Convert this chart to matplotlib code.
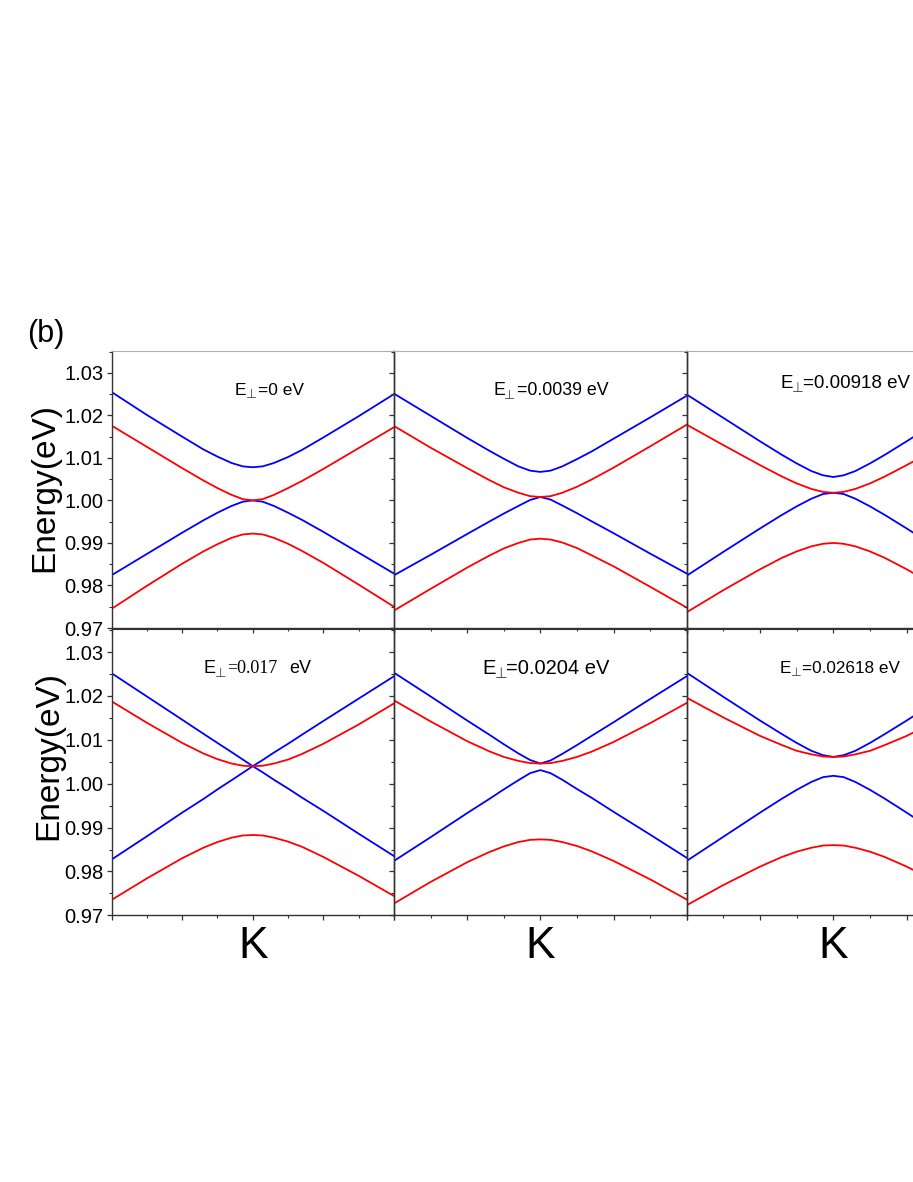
import matplotlib
matplotlib.use("Agg")
import matplotlib.pyplot as plt
from matplotlib.ticker import MultipleLocator, FixedLocator

plt.rcParams['font.family'] = ['Liberation Sans', 'DejaVu Sans']

# k across each panel, K point at 0
k = [-1, -0.75, -0.5, -0.35, -0.25, -0.15, -0.07, 0, 0.07, 0.15, 0.25, 0.35, 0.5, 0.75, 1]

# E_perp = 0 eV
p1_blue_up = [1.0255, 1.0201, 1.0150, 1.0120, 1.0103, 1.0088, 1.0080, 1.0078, 1.0080, 1.0088, 1.0102, 1.0119, 1.0148, 1.0198, 1.0250]
p1_red_up = [1.0176, 1.0126, 1.0076, 1.0047, 1.0029, 1.0013, 1.0003, 1.0000, 1.0003, 1.0013, 1.0029, 1.0046, 1.0074, 1.0123, 1.0172]
p1_blue_lo = [0.9824, 0.9874, 0.9924, 0.9953, 0.9971, 0.9987, 0.9997, 1.0000, 0.9997, 0.9987, 0.9971, 0.9954, 0.9926, 0.9877, 0.9828]
p1_red_lo = [0.9745, 0.9799, 0.9851, 0.9880, 0.9897, 0.9912, 0.9920, 0.9922, 0.9920, 0.9912, 0.9898, 0.9881, 0.9853, 0.9802, 0.9750]

# E_perp = 0.0039 eV
p2_blue_up = [1.0251, 1.0199, 1.0147, 1.0117, 1.0098, 1.0080, 1.0070, 1.0067, 1.0070, 1.0080, 1.0097, 1.0115, 1.0145, 1.0195, 1.0246]
p2_red_up = [1.0175, 1.0124, 1.0076, 1.0048, 1.0031, 1.0018, 1.0010, 1.0008, 1.0010, 1.0018, 1.0032, 1.0049, 1.0077, 1.0127, 1.0178]
p2_blue_lo = [0.9824, 0.9872, 0.9921, 0.9950, 0.9969, 0.9987, 1.0001, 1.0008, 1.0002, 0.9988, 0.9970, 0.9951, 0.9923, 0.9875, 0.9828]
p2_red_lo = [0.9741, 0.9792, 0.9842, 0.9870, 0.9887, 0.9900, 0.9908, 0.9910, 0.9908, 0.9901, 0.9888, 0.9871, 0.9845, 0.9797, 0.9748]

# E_perp = 0.00918 eV
p3_blue_up = [1.0249, 1.0194, 1.0139, 1.0107, 1.0087, 1.0069, 1.0059, 1.0055, 1.0059, 1.0069, 1.0087, 1.0107, 1.0139, 1.0194, 1.0249]
p3_red_up = [1.0178, 1.0130, 1.0083, 1.0056, 1.0040, 1.0027, 1.0020, 1.0018, 1.0020, 1.0027, 1.0040, 1.0056, 1.0083, 1.0130, 1.0178]
p3_blue_lo = [0.9823, 0.9879, 0.9934, 0.9966, 0.9986, 1.0004, 1.0015, 1.0018, 1.0015, 1.0004, 0.9986, 0.9966, 0.9934, 0.9879, 0.9823]
p3_red_lo = [0.9737, 0.9789, 0.9838, 0.9865, 0.9880, 0.9892, 0.9898, 0.9900, 0.9898, 0.9892, 0.9880, 0.9865, 0.9838, 0.9789, 0.9737]

# E_perp = 0.017 eV
p4_blue_up = [1.0252, 1.0199, 1.0146, 1.0114, 1.0093, 1.0072, 1.0055, 1.0040, 1.0054, 1.0071, 1.0091, 1.0112, 1.0143, 1.0194, 1.0245]
p4_red_up = [1.0188, 1.0139, 1.0093, 1.0069, 1.0056, 1.0046, 1.0041, 1.0040, 1.0041, 1.0046, 1.0055, 1.0068, 1.0091, 1.0135, 1.0183]
p4_blue_lo = [0.9827, 0.9880, 0.9934, 0.9965, 0.9987, 1.0008, 1.0025, 1.0040, 1.0026, 1.0009, 0.9989, 0.9968, 0.9938, 0.9886, 0.9835]
p4_red_lo = [0.9735, 0.9784, 0.9830, 0.9854, 0.9867, 0.9877, 0.9882, 0.9883, 0.9882, 0.9877, 0.9868, 0.9856, 0.9833, 0.9790, 0.9744]

# E_perp = 0.0204 eV
p5_blue_up = [1.0253, 1.0199, 1.0144, 1.0112, 1.0090, 1.0069, 1.0054, 1.0046, 1.0053, 1.0068, 1.0088, 1.0109, 1.0140, 1.0193, 1.0245]
p5_red_up = [1.0190, 1.0142, 1.0097, 1.0074, 1.0061, 1.0052, 1.0047, 1.0046, 1.0047, 1.0052, 1.0061, 1.0073, 1.0095, 1.0138, 1.0184]
p5_blue_lo = [0.9824, 0.9878, 0.9933, 0.9965, 0.9987, 1.0008, 1.0024, 1.0031, 1.0024, 1.0009, 0.9988, 0.9968, 0.9936, 0.9884, 0.9831]
p5_red_lo = [0.9727, 0.9776, 0.9821, 0.9844, 0.9857, 0.9867, 0.9872, 0.9873, 0.9872, 0.9867, 0.9858, 0.9846, 0.9824, 0.9782, 0.9736]

# E_perp = 0.02618 eV
p6_blue_up = [1.0253, 1.0198, 1.0144, 1.0113, 1.0093, 1.0075, 1.0065, 1.0061, 1.0065, 1.0075, 1.0093, 1.0113, 1.0144, 1.0198, 1.0253]
p6_red_up = [1.0196, 1.0151, 1.0109, 1.0088, 1.0075, 1.0067, 1.0062, 1.0061, 1.0062, 1.0067, 1.0075, 1.0088, 1.0109, 1.0151, 1.0196]
p6_blue_lo = [0.9824, 0.9879, 0.9934, 0.9966, 0.9986, 1.0004, 1.0015, 1.0018, 1.0015, 1.0004, 0.9986, 0.9966, 0.9934, 0.9879, 0.9824]
p6_red_lo = [0.9723, 0.9769, 0.9811, 0.9833, 0.9845, 0.9854, 0.9859, 0.9860, 0.9859, 0.9854, 0.9845, 0.9833, 0.9811, 0.9769, 0.9723]

label_vals = ['=0 eV', '=0.0039 eV', '=0.00918 eV', '=0.017', '=0.0204 eV', '=0.02618 eV']

panels = [(p1_blue_up, p1_red_up, p1_blue_lo, p1_red_lo),
          (p2_blue_up, p2_red_up, p2_blue_lo, p2_red_lo),
          (p3_blue_up, p3_red_up, p3_blue_lo, p3_red_lo),
          (p4_blue_up, p4_red_up, p4_blue_lo, p4_red_lo),
          (p5_blue_up, p5_red_up, p5_blue_lo, p5_red_lo),
          (p6_blue_up, p6_red_up, p6_blue_lo, p6_red_lo)]

W, H = 913, 1182
fig = plt.figure(figsize=(W / 100, H / 100), dpi=100)

# pixel layout of the grid
col_x = [(111.5, 394.0), (394.0, 686.7), (686.7, 980.0)]
row_y = [(350.7, 628.0), (629.3, 915.3)]
# label pieces: x of "E", x of "=", baseline, font size
lab_ex = [235, 493, 780, 203, 482, 780]
lab_eqx = [258, 517, 803, 227, 506, 802]
lab_base = [395, 395, 388, 673, 674, 673]
lab_size = [12.5, 12.8, 13.5, 13, 14.5, 12.3]


def fx(x):
    return x / W


def fy(y):
    return 1 - y / H


def px_rect(x0, x1, y0, y1):
    return [x0 / W, 1 - y1 / H, (x1 - x0) / W, (y1 - y0) / H]


for i, bands in enumerate(panels):
    r, c = divmod(i, 3)
    ax = fig.add_axes(px_rect(col_x[c][0], col_x[c][1], row_y[r][0], row_y[r][1]))
    ax.patch.set_visible(False)
    bu, ru, bl, rl = bands
    ax.plot(k, bu, color='#0000ff', lw=1.3)
    ax.plot(k, bl, color='#0000ff', lw=1.3)
    ax.plot(k, ru, color='#ff0000', lw=1.3)
    ax.plot(k, rl, color='#ff0000', lw=1.3)
    ax.set_xlim(-1, 1)
    ax.set_ylim(0.97, 1.0352)

    ax.xaxis.set_major_locator(FixedLocator([-1, -0.5, 0, 0.5, 1]))
    ax.xaxis.set_minor_locator(FixedLocator([-0.75, -0.25, 0.25, 0.75]))
    ax.yaxis.set_major_locator(MultipleLocator(0.01))
    ax.yaxis.set_minor_locator(MultipleLocator(0.005))
    ax.tick_params(which='major', direction='out', length=3.4, width=0.9, color='#333333')
    ax.tick_params(which='minor', direction='out', length=1.9, width=0.8, color='#333333')
    ax.tick_params(axis='y', labelsize=14.5, pad=2.6)
    ax.tick_params(axis='x', labelsize=32, pad=4.5)

    if r == 1:
        ax.set_xticklabels(['', '', 'K', '', ''])
    else:
        ax.set_xticklabels([])
    if c == 0:
        ax.set_yticklabels(['%.2f' % v for v in ax.get_yticks()])
    else:
        ax.set_yticklabels([])

    for side in ['left', 'right', 'bottom']:
        ax.spines[side].set_color('#333333')
        ax.spines[side].set_linewidth(1.0)
    if r == 0:
        ax.spines['top'].set_color('#b0b0b0')
        ax.spines['top'].set_linewidth(0.8)
    else:
        ax.spines['top'].set_color('#333333')

    # E with a small perpendicular sign as subscript, then the value
    fs = lab_size[i]
    em = fs * 100 / 72.0
    fig.text(fx(lab_ex[i]), fy(lab_base[i]), 'E', fontsize=fs, ha='left', va='baseline')
    fig.text(fx(lab_ex[i] + 0.64 * em), fy(lab_base[i] + 0.2 * em), '\u22a5',
             fontsize=fs * 0.72, family='DejaVu Sans', color='#444444', ha='left', va='baseline')
    if i == 3:
        fig.text(fx(lab_eqx[i]), fy(lab_base[i]), label_vals[i], fontsize=fs,
                 family='Liberation Serif', ha='left', va='baseline')
        fig.text(fx(289), fy(lab_base[i]), 'eV', fontsize=fs, ha='left', va='baseline')
    else:
        fig.text(fx(lab_eqx[i]), fy(lab_base[i]), label_vals[i], fontsize=fs, ha='left', va='baseline')

fig.text(fx(45), fy(488), 'Energy(eV)', fontsize=24, rotation=90, ha='center', va='center')
fig.text(fx(49), fy(755), 'Energy(eV)', fontsize=24, rotation=90, ha='center', va='center')
fig.text(fx(27), fy(342), '(b)', fontsize=22, ha='left', va='baseline')

fig.savefig('out.png', dpi=100, facecolor='white')
